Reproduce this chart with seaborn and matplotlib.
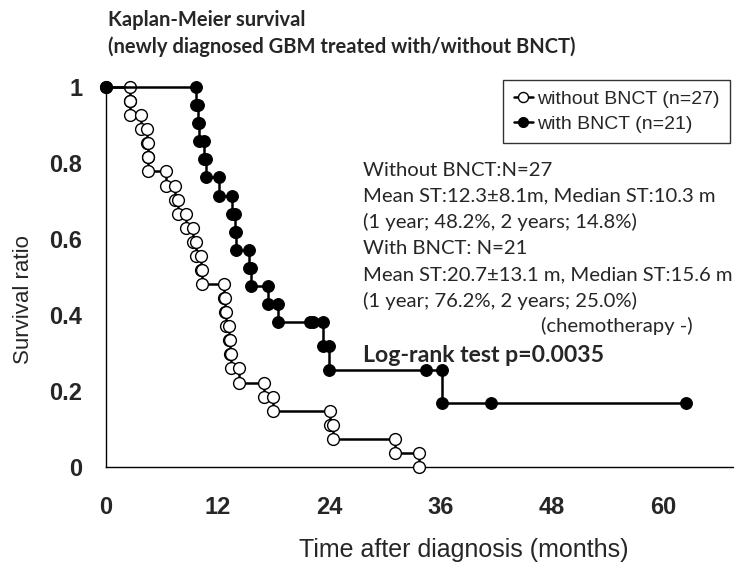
import numpy as np
import pandas as pd
import matplotlib
matplotlib.use("Agg")
import matplotlib.pyplot as plt
import seaborn as sns

# ---- data (months; event 1 = death, 0 = censored) ----
without_times = [2.6, 2.6, 3.8, 4.4, 4.5, 4.5, 6.5, 7.4, 7.7, 8.6, 9.35, 9.7, 10.2, 10.3,
                 12.7, 12.8, 12.9, 13.2, 13.4, 13.5, 14.35, 17.0, 18.0, 24.1, 24.4, 31.1, 33.7]
without_events = [1, 1, 1, 1, 1, 1, 1, 1, 1, 1, 1, 1, 1, 1,
                  1, 1, 1, 1, 1, 1, 1, 1, 1, 1, 1, 1, 1]
with_times = [9.7, 9.9, 10.0, 10.6, 10.8, 12.2, 13.6, 13.9, 14.0, 15.4, 15.6, 17.4, 18.5,
              22.0, 22.3, 23.4, 24.0, 34.5, 36.2, 41.5, 62.4]
with_events = [1, 1, 1, 1, 1, 1, 1, 1, 1, 1, 1, 1, 1,
               0, 0, 1, 1, 0, 1, 0, 0]

x_ticks = [0, 12, 24, 36, 48, 60]
y_ticks = [0, 0.2, 0.4, 0.6, 0.8, 1.0]
y_ticklabels = ["0", "0.2", "0.4", "0.6", "0.8", "1"]

labels = ["without BNCT (n=27)", "with BNCT (n=21)"]
title_lines = ["Kaplan-Meier survival", "(newly diagnosed GBM treated with/without BNCT)"]
stats_lines = ["Without BNCT:N=27",
               "Mean ST:12.3\u00b18.1m, Median ST:10.3 m",
               "(1 year; 48.2%, 2 years; 14.8%)",
               "With BNCT: N=21",
               "Mean ST:20.7\u00b113.1 m, Median ST:15.6 m",
               "(1 year; 76.2%, 2 years; 25.0%)"]
chemo_text = "(chemotherapy -)"
logrank_text = "Log-rank test p=0.0035"


def km_vertices(times, events):
    order = np.argsort(times, kind="stable")
    n = len(times)
    s = 1.0
    xs, ys = [0.0], [1.0]
    for i in order:
        t, e = times[i], events[i]
        if e:
            xs.append(t); ys.append(s)
            s *= (n - 1) / n
            xs.append(t); ys.append(s)
        else:
            xs.append(t); ys.append(s)
        n -= 1
    return pd.DataFrame({"t": xs, "s": ys})


df_wo = km_vertices(without_times, without_events)
df_w = km_vertices(with_times, with_events)

sns.set_theme(style="white")
plt.rcParams["font.family"] = ["Liberation Sans", "DejaVu Sans"]

W, H = 734, 565
fig = plt.figure(figsize=(W / 100, H / 100), dpi=100)
ax = fig.add_axes([106 / W, (H - 467) / H, 627 / W, 380 / H])

sns.lineplot(data=df_wo, x="t", y="s", sort=False, estimator=None, ax=ax,
             color="black", linewidth=1.8, marker="o", markersize=8.5,
             markerfacecolor="white", markeredgecolor="black", markeredgewidth=1.0,
             clip_on=False, label=labels[0], zorder=3)
sns.lineplot(data=df_w, x="t", y="s", sort=False, estimator=None, ax=ax,
             color="black", linewidth=1.8, marker="o", markersize=8.5,
             markerfacecolor="black", markeredgecolor="black",
             clip_on=False, label=labels[1], zorder=4)

ax.set_xlim(0, 67.5)
ax.set_ylim(0, 1)
ax.set_xticks(x_ticks)
ax.set_xticklabels([str(v) for v in x_ticks])
ax.set_yticks(y_ticks)
ax.set_yticklabels(y_ticklabels)
for sp in ["top", "right"]:
    ax.spines[sp].set_visible(False)
for sp in ["left", "bottom"]:
    ax.spines[sp].set_color("black")
    ax.spines[sp].set_linewidth(1.0)
ax.tick_params(axis="both", direction="in", length=5, width=1, color="black")
ax.tick_params(axis="x", pad=21, labelsize=17)
ax.tick_params(axis="y", pad=17, labelsize=17)
for lab in ax.get_xticklabels() + ax.get_yticklabels():
    lab.set_fontweight("bold")
ax.set_xlabel("")
ax.set_ylabel("")
fig.text(24 / W, 1 - 300 / H, "Survival ratio", fontsize=16, rotation=90,
         ha="center", va="center")
fig.text(464 / W, 1 - 550 / H, "Time after diagnosis (months)", fontsize=18,
         ha="center", va="center")

leg = ax.legend(loc="upper left", bbox_to_anchor=(503 / W, 1 - 80 / H),
                bbox_transform=fig.transFigure, frameon=True, fancybox=False,
                edgecolor="black", fontsize=14, handlelength=1.0, handletextpad=0.2,
                borderpad=0.55, labelspacing=0.35, numpoints=1, markerscale=0.85,
                borderaxespad=0)
leg.get_frame().set_linewidth(1.0)

fig.text(108 / W, 1 - 20 / H, title_lines[0], fontsize=14.5, fontweight="bold",
         family="Lato", ha="left", va="center")
fig.text(108 / W, 1 - 47 / H, title_lines[1], fontsize=14.5, fontweight="bold",
         family="Lato", ha="left", va="center")

y0 = 170
for i, line in enumerate(stats_lines):
    fig.text(363 / W, 1 - (y0 + 26.1 * i) / H, line, fontsize=14.6, family="Lato",
             ha="left", va="center")
fig.text(693 / W, 1 - 326 / H, chemo_text, fontsize=14.6, family="Lato",
         ha="right", va="center")
fig.text(363 / W, 1 - 355 / H, logrank_text, fontsize=16.6, fontweight="bold",
         family="Lato", ha="left", va="center")

fig.savefig("out.png", dpi=100)
